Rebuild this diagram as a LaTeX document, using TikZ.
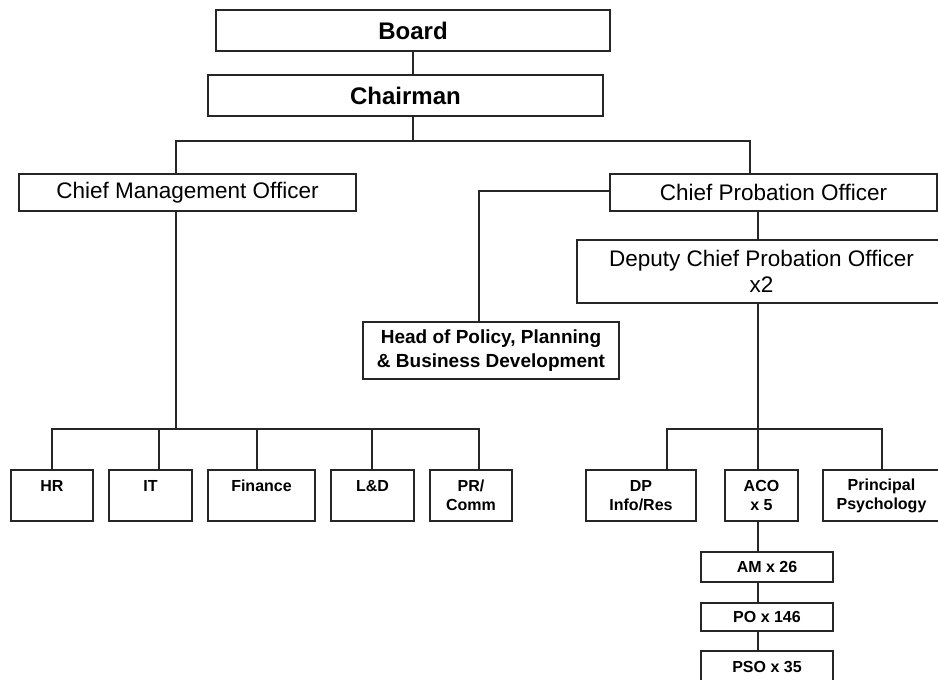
\documentclass[tikz,border=0pt]{standalone}
\usepackage{fontspec}
\setmainfont{Liberation Sans}
\begin{document}
\begin{tikzpicture}[x=1pt,y=1pt,yscale=-1,
  box/.style={draw=black!85, line width=1.4pt, inner sep=0pt, align=center},
  topbox/.style={box, font=\fontsize{24}{28}\selectfont\bfseries},
  chiefbox/.style={box, font=\fontsize{22.5}{26}\selectfont},
  headbox/.style={box, font=\fontsize{19}{23.4}\selectfont\bfseries},
  unitbox/.style={box, font=\fontsize{16}{19}\selectfont\bfseries},
  link/.style={draw=black!85, line width=1.4pt}]
\useasboundingbox (0,0) rectangle (938,680);
\clip (0,0) rectangle (938,680);

%Shape: Rectangle [board]
\node[topbox, minimum width=394, minimum height=41] (board) at (413,30.5) {Board};
%Shape: Rectangle [chairman]
\node[topbox, minimum width=395, minimum height=41] (chair) at (405.5,95.5) {Chairman};
%Shape: Rectangle [chief officers]
\node[chiefbox, minimum width=337, minimum height=37] (cmo) at (187.5,192.5) {Chief Management Officer};
\node[chiefbox, minimum width=327, minimum height=37] (cpo) at (773.5,192.5) {Chief Probation Officer};
\node[chiefbox, minimum width=369, minimum height=63] (dcpo) at (761.5,271.5) {Deputy Chief Probation Officer\\x2};
\node[headbox, minimum width=256, minimum height=57] (hpp) at (491,350.5) {Head of Policy, Planning\\\& Business Development};

%Shape: Rectangle [management units]
\node[unitbox, minimum width=82, minimum height=51] (hr) at (52,495.5) {HR\\\mbox{}};
\node[unitbox, minimum width=83, minimum height=51] (it) at (150.5,495.5) {IT\\\mbox{}};
\node[unitbox, minimum width=107, minimum height=51] (fin) at (261.5,495.5) {Finance\\\mbox{}};
\node[unitbox, minimum width=83, minimum height=51] (ld) at (372.5,495.5) {L\&D\\\mbox{}};
\node[unitbox, minimum width=82, minimum height=51] (pr) at (471,495.5) {PR/\\Comm};

%Shape: Rectangle [probation units]
\node[unitbox, minimum width=110, minimum height=51] (dp) at (641,495.5) {DP\\Info/Res};
\node[unitbox, minimum width=73, minimum height=51] (aco) at (761.5,495.5) {ACO\\x 5};
\node[unitbox, minimum width=117, minimum height=51] (psy) at (881.5,495.5) {Principal\\Psychology};
\node[unitbox, minimum width=132, minimum height=30] (am) at (767,567) {AM x 26};
\node[unitbox, minimum width=132, minimum height=28] (po) at (767,617) {PO x 146};
\node[unitbox, minimum width=132, minimum height=32] (pso) at (767,667) {PSO x 35};

%Straight Lines [top]
\coordinate (c1) at (413,141);
\draw[link] (board.south) -- (board.south |- chair.north);
\draw[link] (board.south |- chair.south) -- (c1);
\draw[link] (c1) -| ([xshift=-11.5]cmo.north);
\draw[link] (c1) -| ([xshift=-23.5]cpo.north);

%Straight Lines [management]
\coordinate (c2) at (176,429);
\draw[link] ([xshift=-11.5]cmo.south) -- (c2);
\foreach \u/\s in {hr/0,it/8.5,fin/-4.5,ld/-0.5,pr/8}
  \draw[link] (c2) -| ([xshift=\s]\u.north);

%Straight Lines [probation]
\draw[link] ([yshift=-1.5]cpo.west) -| ([xshift=-12]hpp.north);
\draw[link] ([xshift=-15.5]cpo.south) -- ([xshift=-15.5]cpo.south |- dcpo.north);
\coordinate (c3) at (758,429);
\draw[link] ([xshift=-3.5]dcpo.south) -- (c3);
\draw[link] (c3) -| ([xshift=26]dp.north);
\draw[link] (c3) -- (c3 |- aco.north);
\draw[link] (c3) -| ([xshift=0.5]psy.north);
\draw[link] (c3 |- aco.south) -- (c3 |- am.north);
\draw[link] (c3 |- am.south) -- (c3 |- po.north);
\draw[link] (c3 |- po.south) -- (c3 |- pso.north);

\end{tikzpicture}
\end{document}
